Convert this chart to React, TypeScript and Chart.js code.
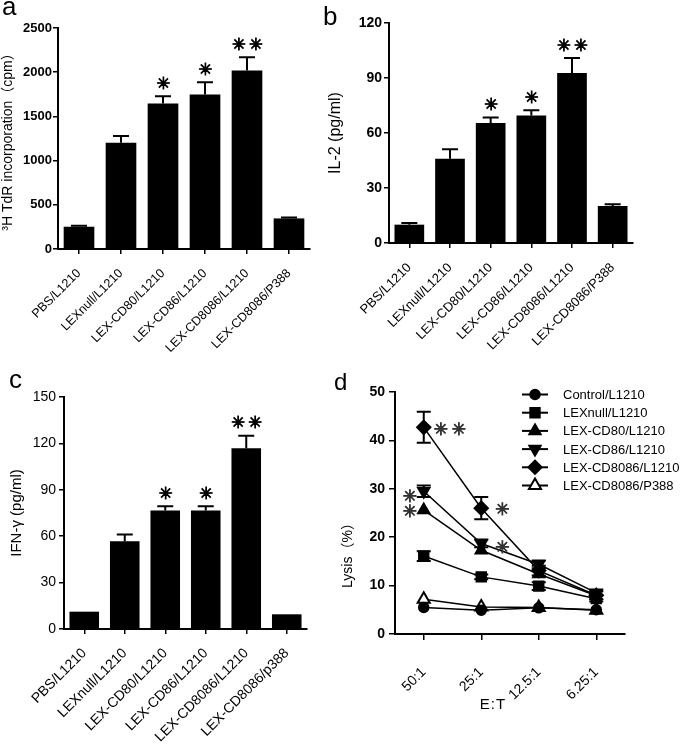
import React, { useEffect, useRef } from 'react';
import { Chart, registerables } from 'chart.js';
import { drawPoint } from 'chart.js/helpers';

Chart.register(...registerables);

const FONT = "Arial, 'Liberation Sans', 'Noto Sans CJK SC', sans-serif";
const STAR_FONT = "'DejaVu Sans', sans-serif";

// ---------- data ----------
const groupLabels = ['PBS/L1210', 'LEXnull/L1210', 'LEX-CD80/L1210', 'LEX-CD86/L1210', 'LEX-CD8086/L1210', 'LEX-CD8086/P388'];
const groupLabelsC = ['PBS/L1210', 'LEXnull/L1210', 'LEX-CD80/L1210', 'LEX-CD86/L1210', 'LEX-CD8086/L1210', 'LEX-CD8086/p388'];
const sigMarks = ['', '', '*', '*', '**', ''];

const thdrMeans = [252, 1203, 1647, 1748, 2019, 346];
const thdrErrors = [10, 75, 82, 139, 150, 11];

const il2Means = [10, 46, 65.5, 69.6, 92.7, 20.2];
const il2Errors = [0.9, 5.1, 2.9, 2.8, 8.2, 0.9];

const ifnMeans = [11.2, 56.8, 76.6, 76.6, 116.8, 9.5];
const ifnErrors = [0, 4.3, 2.8, 2.8, 8.2, 0];

const etRatios = ['50:1', '25:1', '12.5:1', '6.25:1'];
const lysisControl = [5.5, 4.9, 5.4, 5.0];
const lysisLexNull = [16.1, 11.8, 9.9, 7.3];
const lysisCD80 = [25.6, 17.3, 12.4, 7.9];
const lysisCD86 = [29.5, 18.7, 14.4, 8.5];
const lysisCD8086 = [42.7, 26.0, 13.1, 8.0];
const lysisP388 = [7.2, 5.6, 5.5, 4.9];
const errCD8086 = [3.2, 2.3, 1.0, 0.8];
const errCD86 = [1.2, 0.8, 0.8, 0.5];
const errLexNull = [1.0, 0.5, 0.8, 0.6];

const lysisNames = ['Control/L1210', 'LEXnull/L1210', 'LEX-CD80/L1210', 'LEX-CD86/L1210', 'LEX-CD8086/L1210', 'LEX-CD8086/P388'];

// ---------- helpers ----------
// draws significance asterisks (one glyph per '*' in text) centred on (cx, cy)
function drawStarText(ctx: CanvasRenderingContext2D, text: string, cx: number, cy: number, size: number, color = '#000') {
  const glyph = '✳';
  ctx.save();
  ctx.font = `bold ${size}px ${STAR_FONT}`;
  ctx.fillStyle = color;
  ctx.strokeStyle = color;
  ctx.lineWidth = 0.9;
  ctx.textAlign = 'left';
  ctx.textBaseline = 'alphabetic';
  const m = ctx.measureText(glyph);
  const asc = m.actualBoundingBoxAscent;
  const desc = m.actualBoundingBoxDescent;
  const bl = m.actualBoundingBoxLeft;
  const br = m.actualBoundingBoxRight;
  const gw = br + bl;
  const gap = 4;
  const n = text.length;
  const total = n * gw + (n - 1) * gap;
  let x0 = cx - total / 2;
  const baseY = cy + (asc - desc) / 2;
  for (let i = 0; i < n; i++) {
    ctx.fillText(glyph, x0 + bl, baseY);
    ctx.strokeText(glyph, x0 + bl, baseY);
    x0 += gw + gap;
  }
  ctx.restore();
}

const errorBarsPlugin = {
  id: 'errorBars',
  afterDatasetsDraw(chart: any) {
    const { ctx } = chart;
    const yScale = chart.scales.y;
    chart.data.datasets.forEach((ds: any, di: number) => {
      if (!ds.errors && !ds.marks) return;
      const meta = chart.getDatasetMeta(di);
      ctx.save();
      ctx.strokeStyle = '#000';
      ctx.lineWidth = 2;
      meta.data.forEach((el: any, i: number) => {
        const e = ds.errors ? ds.errors[i] : 0;
        const v = ds.data[i];
        const x = el.x;
        const yTop = yScale.getPixelForValue(v + (e || 0));
        if (e) {
          const yBot = ds.errorBoth ? yScale.getPixelForValue(v - e) : yScale.getPixelForValue(v);
          const half = ds.capHalf || 8;
          ctx.beginPath();
          ctx.moveTo(x, yBot);
          ctx.lineTo(x, yTop);
          ctx.moveTo(x - half, yTop);
          ctx.lineTo(x + half, yTop);
          if (ds.errorBoth) {
            ctx.moveTo(x - half, yBot);
            ctx.lineTo(x + half, yBot);
          }
          ctx.stroke();
        }
        if (ds.marks && ds.marks[i]) {
          drawStarText(ctx, ds.marks[i], x, yTop - 14, 16.5);
        }
      });
      ctx.restore();
    });
  },
};

function ChartCanvas({ left, top, width, height, build }: any) {
  const ref = useRef<HTMLCanvasElement>(null);
  useEffect(() => {
    const chart = new Chart(ref.current as HTMLCanvasElement, build());
    return () => chart.destroy();
  }, []);
  return (
    <canvas
      ref={ref}
      width={width}
      height={height}
      style={{ position: 'absolute', left, top, width, height }}
    />
  );
}

function barConfig(p: any): any {
  return {
    type: 'bar',
    data: {
      labels: p.labels,
      datasets: [
        {
          data: p.values,
          errors: p.errors,
          marks: sigMarks,
          backgroundColor: '#000',
          borderWidth: 0,
          barPercentage: 0.73,
          categoryPercentage: 1,
        },
      ],
    },
    options: {
      responsive: false,
      animation: false,
      devicePixelRatio: 1,
      layout: { padding: { left: 0, right: p.padRight, top: p.padTop, bottom: 0 } },
      plugins: { legend: { display: false }, tooltip: { enabled: false } },
      scales: {
        x: {
          grid: { offset: false, drawOnChartArea: false, color: '#000', lineWidth: 1.5, tickLength: 5 },
          border: { color: '#000', width: 2 },
          ticks: {
            autoSkip: false,
            maxRotation: 45,
            minRotation: 45,
            color: '#000',
            padding: p.xPad,
            font: { family: FONT, size: p.xFont },
          },
          afterFit: (s: any) => {
            s.height = p.xHeight;
          },
        },
        y: {
          min: 0,
          max: p.yMax,
          ticks: {
            stepSize: p.yStep,
            color: '#000',
            padding: p.yTickPad,
            font: { family: FONT, size: p.yFont, weight: p.yBold ? 'bold' : 'normal' },
            callback: (v: any) => String(v),
          },
          grid: { drawOnChartArea: false, color: '#000', lineWidth: 1.5, tickLength: 5 },
          border: { color: '#000', width: 2 },
          title: {
            display: true,
            text: p.yTitle,
            color: '#000',
            font: { family: FONT, size: p.titleSize, lineHeight: 1 },
            padding: { top: p.titlePad, bottom: 0 },
          },
          afterFit: (s: any) => {
            s.width = p.yWidth;
          },
        },
      },
    },
    plugins: [errorBarsPlugin],
  };
}

const buildA = () =>
  barConfig({
    labels: groupLabels,
    values: thdrMeans,
    errors: thdrErrors,
    yMax: 2500,
    yStep: 500,
    yTitle: '³H TdR incorporation（cpm）',
    titleSize: 14,
    titlePad: 1,
    yFont: 13,
    yBold: true,
    yTickPad: 1,
    xFont: 12.5,
    xPad: 12,
    yWidth: 58,
    xHeight: 123,
    padRight: 32,
    padTop: 28,
  });

const buildB = () =>
  barConfig({
    labels: groupLabels,
    values: il2Means,
    errors: il2Errors,
    yMax: 120,
    yStep: 30,
    yTitle: 'IL-2 (pg/ml)',
    titleSize: 16,
    titlePad: 6,
    yFont: 14,
    yBold: true,
    yTickPad: 2,
    xFont: 13,
    xPad: 12,
    yWidth: 67,
    xHeight: 129,
    padRight: 52,
    padTop: 23,
  });

const buildC = () =>
  barConfig({
    labels: groupLabelsC,
    values: ifnMeans,
    errors: ifnErrors,
    yMax: 150,
    yStep: 30,
    yTitle: 'IFN-γ (pg/ml)',
    titleSize: 15,
    titlePad: 9,
    yFont: 14,
    yBold: false,
    yTickPad: 3,
    xFont: 14,
    xPad: 11,
    yWidth: 64,
    xHeight: 118,
    padRight: 35,
    padTop: 25,
  });

// ---------- panel d ----------
const seriesStyles = [
  { pointStyle: 'circle', radius: 5, rotation: 0, fill: '#000' },
  { pointStyle: 'rect', radius: 7, rotation: 0, fill: '#000' },
  { pointStyle: 'triangle', radius: 7, rotation: 0, fill: '#000' },
  { pointStyle: 'triangle', radius: 7, rotation: 180, fill: '#000' },
  { pointStyle: 'rectRot', radius: 7, rotation: 0, fill: '#000' },
  { pointStyle: 'triangle', radius: 7, rotation: 0, fill: '#fff' },
];

const lysisSeries = [lysisControl, lysisLexNull, lysisCD80, lysisCD86, lysisCD8086, lysisP388];
const lysisErrors: any[] = [null, errLexNull, null, errCD86, errCD8086, null];

const dStars = [
  { ds: 4, i: 0, text: '**', dx: 26, dy: 1 },
  { ds: 3, i: 0, text: '*', dx: -14, dy: 4 },
  { ds: 2, i: 0, text: '*', dx: -14, dy: 0 },
  { ds: 4, i: 1, text: '*', dx: 21, dy: 0 },
  { ds: 3, i: 1, text: '*', dx: 21, dy: 3 },
];

const panelDPlugin = {
  id: 'panelD',
  afterDraw(chart: any) {
    const { ctx, chartArea } = chart;
    // stars
    dStars.forEach((s) => {
      const el = chart.getDatasetMeta(s.ds).data[s.i];
      drawStarText(ctx, s.text, el.x + s.dx, el.y + s.dy, 17, '#333');
    });
    // legend
    ctx.save();
    const lx0 = chartArea.right - 103;
    const lx1 = chartArea.right - 77;
    const tx = chartArea.right - 62;
    chart.data.datasets.forEach((ds: any, k: number) => {
      const y = chartArea.top + 2.5 + k * 18.2;
      const st = seriesStyles[k];
      ctx.strokeStyle = '#000';
      ctx.lineWidth = 2;
      ctx.beginPath();
      ctx.moveTo(lx0, y);
      ctx.lineTo(lx1, y);
      ctx.stroke();
      ctx.fillStyle = st.fill;
      ctx.strokeStyle = '#000';
      ctx.lineWidth = st.fill === '#fff' ? 2 : 1.5;
      drawPoint(ctx, { pointStyle: st.pointStyle as any, rotation: st.rotation, radius: st.radius, borderWidth: ctx.lineWidth } as any, (lx0 + lx1) / 2, y);
      ctx.fillStyle = '#000';
      ctx.font = `13px ${FONT}`;
      ctx.textAlign = 'left';
      ctx.textBaseline = 'middle';
      ctx.fillText(ds.label, tx, y + 1);
    });
    // axis titles
    ctx.fillStyle = '#000';
    ctx.font = `15px ${FONT}`;
    (ctx as any).letterSpacing = '1px';
    ctx.textAlign = 'center';
    ctx.textBaseline = 'middle';
    ctx.fillText('E:T', chartArea.left + 98, chartArea.bottom + 71);
    (ctx as any).letterSpacing = '0px';
    ctx.save();
    ctx.translate(18, chartArea.top + 160);
    ctx.rotate(-Math.PI / 2);
    ctx.font = `14px ${FONT}`;
    ctx.fillText('Lysis（%）', 0, 0);
    ctx.restore();
    ctx.restore();
  },
};

const buildD = (): any => ({
  type: 'line',
  data: {
    labels: etRatios,
    datasets: lysisSeries.map((vals, k) => ({
      label: lysisNames[k],
      data: vals,
      errors: lysisErrors[k],
      errorBoth: true,
      capHalf: 7,
      borderColor: '#000',
      borderWidth: 1.5,
      backgroundColor: seriesStyles[k].fill,
      pointBackgroundColor: seriesStyles[k].fill,
      pointBorderColor: '#000',
      pointBorderWidth: seriesStyles[k].fill === '#fff' ? 2 : 1.5,
      pointStyle: seriesStyles[k].pointStyle,
      pointRotation: seriesStyles[k].rotation,
      pointRadius: seriesStyles[k].radius,
      fill: false,
      tension: 0,
    })),
  },
  options: {
    responsive: false,
    animation: false,
    devicePixelRatio: 1,
    layout: { padding: { left: 0, right: 60, top: 20, bottom: 0 } },
    plugins: { legend: { display: false }, tooltip: { enabled: false } },
    scales: {
      x: {
        offset: true,
        grid: { offset: false, drawOnChartArea: false, color: '#000', lineWidth: 1.5, tickLength: 6 },
        border: { color: '#000', width: 2 },
        ticks: {
          autoSkip: false,
          maxRotation: 45,
          minRotation: 45,
          color: '#000',
          padding: 24,
          font: { family: FONT, size: 14 },
        },
        afterFit: (s: any) => {
          s.height = 113;
        },
      },
      y: {
        min: 0,
        max: 50,
        ticks: { stepSize: 10, color: '#000', padding: 4, font: { family: FONT, size: 14, weight: 'bold' } },
        grid: { drawOnChartArea: false, color: '#000', lineWidth: 1.5, tickLength: 6 },
        border: { color: '#000', width: 2 },
        afterFit: (s: any) => {
          s.width = 65;
        },
      },
    },
  },
  plugins: [errorBarsPlugin, panelDPlugin],
});

const letterStyle = (left: number, top: number, size: number): React.CSSProperties => ({
  position: 'absolute',
  left,
  top,
  fontFamily: FONT,
  fontSize: size,
  lineHeight: `${size}px`,
  color: '#000',
});

export default function App() {
  return (
    <div style={{ position: 'absolute', left: 0, top: 0, width: 685, height: 747, background: '#fff', overflow: 'hidden' }}>
      <ChartCanvas left={0} top={0} width={342} height={372} build={buildA} />
      <ChartCanvas left={322} top={0} width={363} height={372} build={buildB} />
      <ChartCanvas left={0} top={372} width={342} height={375} build={buildC} />
      <ChartCanvas left={330} top={372} width={355} height={375} build={buildD} />
      <div style={letterStyle(2, -7, 26)}>a</div>
      <div style={letterStyle(323, 3, 26)}>b</div>
      <div style={letterStyle(9, 366, 26)}>c</div>
      <div style={letterStyle(334, 370, 24)}>d</div>
    </div>
  );
}
